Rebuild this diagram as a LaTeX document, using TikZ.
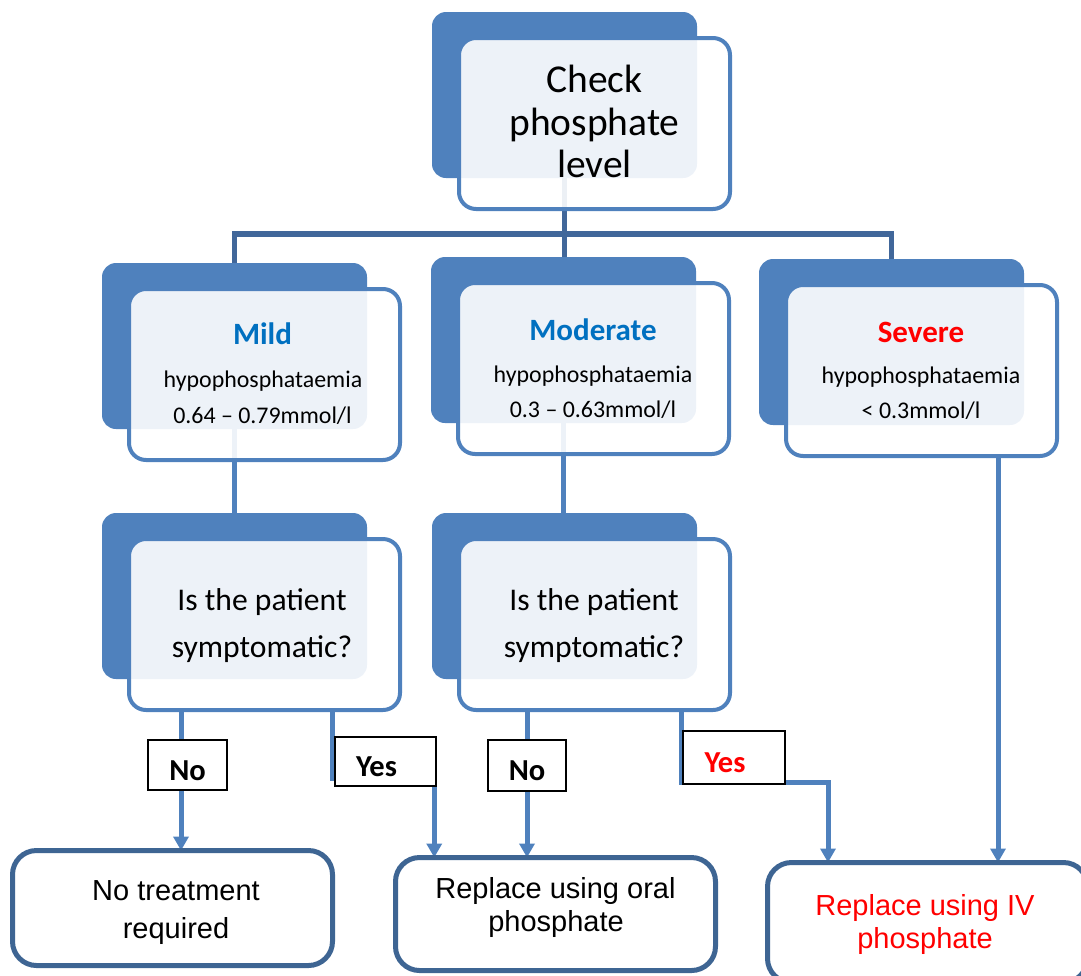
\documentclass[tikz,border=0pt]{standalone}
\usepackage{fontspec}
\setmainfont{Carlito}
\newfontfamily\arialf{Liberation Sans}
\usetikzlibrary{arrows.meta,backgrounds}
\definecolor{boxblue}{HTML}{4F81BD}
\definecolor{busblue}{HTML}{41679A}
\definecolor{botblue}{HTML}{3E6593}
\definecolor{txtblue}{HTML}{0070C0}
\definecolor{txtred}{HTML}{FF0000}
\newcommand\grpbox[3]{%
  \node[darkbox] (#1d) at (#2+132.5,#3+83) {};
  \node[obox] (#1) at (#2+162.5,#3+111.5) {};
}
\begin{document}
\begin{tikzpicture}[x=1pt,y=-1pt,
  darkbox/.style={fill=boxblue, draw=none, rounded corners=14pt, minimum width=265pt, minimum height=166pt, inner sep=0pt, outer sep=0pt},
  obox/.style={draw=boxblue, line width=4pt, fill=white, fill opacity=0.9, rounded corners=17pt, minimum width=271pt, minimum height=171pt, inner sep=0pt, outer sep=0pt},
  botbox/.style={draw=botblue, line width=5pt, fill=white, rounded corners=24pt, minimum width=320pt, inner sep=0pt, outer sep=0pt},
  lab/.style={draw=black, line width=1.6pt, fill=white, inner sep=0pt, outer sep=0pt, text height=30pt, text depth=0pt, font=\fontsize{30.5}{35}\selectfont\bfseries},
  bus/.style={draw=busblue, line width=5.5pt},
  conn/.style={draw=boxblue, line width=5pt},
  arr/.style={conn, -{Triangle[width=15pt,length=14pt]}},
  big/.style={anchor=base, font=\fontsize{39.5}{44}\selectfont},
  head/.style={anchor=base, font=\fontsize{31}{36}\selectfont\bfseries},
  sub/.style={anchor=base, font=\fontsize{23.9}{28}\selectfont},
  qtxt/.style={anchor=base, font=\fontsize{31.6}{36}\selectfont},
  btxt/.style={anchor=base, font=\fontsize{29}{34}\selectfont\arialf}
]
\path[use as bounding box] (0,0) rectangle (1081,975);
\clip (0,0) rectangle (1081,975);

% boxes
\grpbox{top}{432}{12}
\grpbox{mild}{102}{263}
\grpbox{mod}{431}{257}
\grpbox{sev}{759}{259}
\grpbox{msym}{102}{513}
\grpbox{dsym}{432}{513}

% texts in shaded boxes
\node[big] (t1) at (594.5,92) {Check};
\node[big] (t2) at (594.5,135) {phosphate};
\node[big] (t3) at (594.5,177) {level};

\node[head, text=txtblue] (m1) at (262.5,344) {Mild};
\node[sub] (m2) at (263,387) {hypophosphataemia};
\node[sub] (m3) at (262.5,423) {0.64 – 0.79mmol/l};

\node[head, text=txtblue] (d1) at (593,340) {Moderate};
\node[sub] (d2) at (593,382) {hypophosphataemia};
\node[sub] (d3) at (593,417) {0.3 – 0.63mmol/l};

\node[head, text=txtred] (s1) at (921,342) {Severe};
\node[sub] (s2) at (921,383) {hypophosphataemia};
\node[sub] (s3) at (921,418) {< 0.3mmol/l};

\node[qtxt] (q1) at (262,610) {Is the patient};
\node[qtxt] (q2) at (262,657) {symptomatic?};
\node[qtxt] (q3) at (594,610) {Is the patient};
\node[qtxt] (q4) at (594,657) {symptomatic?};

% yes / no labels
\node[lab, minimum width=79.5pt, minimum height=50.5pt] (nolab1) at (187.5,765) {No};
\node[lab, minimum width=101.5pt, minimum height=49.5pt] (yeslab1) at (385.5,761.5) {Yes\hspace*{18pt}};
\node[lab, minimum width=78.5pt, minimum height=51.5pt] (nolab2) at (527,765.5) {No};
\node[lab, minimum width=102.5pt, minimum height=53.5pt, text=txtred] (yeslab2) at (734,757.5) {Yes\hspace*{18pt}};

% outcome boxes
\node[botbox, minimum height=115pt] (ntreat) at (172.5,908) {};
\node[botbox, minimum height=113pt] (oral) at (555.5,914) {};
\node[botbox, minimum height=120pt] (iv) at (927.5,922.5) {};

\node[btxt] (n1) at (176,900) {No treatment};
\node[btxt] (n2) at (176,938) {required};
\node[btxt] (o1) at (555.5,898) {Replace using oral};
\node[btxt] (o2) at (556,931) {phosphate};
\node[btxt, text=txtred] (i1) at (925,915) {Replace using IV};
\node[btxt, text=txtred] (i2) at (925,948) {phosphate};

% connectors
\begin{pgfonlayer}{background}
\coordinate (busc) at ([yshift=-56pt]topd.south);
\draw[bus] (topd.south) -- (busc);
\draw[bus] (mildd.north) |- (busc) -| (sevd.north);
\draw[bus] (busc) -- (busc |- modd.north);
\draw[conn] (mildd.south) -- (mildd.south |- msymd.north);
\draw[conn] (modd.south) -- (modd.south |- dsymd.north);
\draw[arr] ([xshift=-6.5pt]nolab1.north |- msym.south) -- ([xshift=-6.5pt]nolab1.north |- ntreat.north);
\draw[arr] ([xshift=-2pt]yeslab1.west |- msym.south) |- ([xshift=-2pt,yshift=8pt]yeslab1.south east) -- ([xshift=-2pt]yeslab1.south east |- oral.north);
\draw[arr] (nolab2.north |- dsym.south) -- (nolab2.north |- oral.north);
\draw[arr] ([xshift=-1pt]yeslab2.west |- dsym.south) |- ([yshift=2pt]yeslab2.south east) -| ([xshift=60.5pt]iv.north west);
\draw[arr] ([xshift=-59pt]sev.south east) -- ([xshift=-59pt]sev.south east |- iv.north);
\end{pgfonlayer}
\end{tikzpicture}
\end{document}
